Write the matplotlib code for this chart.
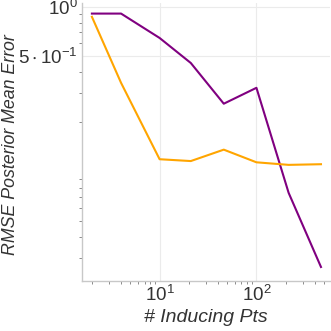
import matplotlib
matplotlib.use("Agg")
import matplotlib.pyplot as plt
from matplotlib.ticker import FixedLocator, FixedFormatter, LogLocator, NullFormatter

plt.rcParams['font.family'] = ['Liberation Sans', 'DejaVu Sans']
plt.rcParams['mathtext.fontset'] = 'custom'
plt.rcParams['mathtext.rm'] = 'Liberation Sans'
plt.rcParams['mathtext.it'] = 'Liberation Sans:italic'

n_inducing = [2, 4, 10, 21, 46, 100, 215, 464]
rmse_purple = [0.906, 0.906, 0.645, 0.455, 0.258, 0.322, 0.0745, 0.0265]
rmse_orange = [0.866, 0.345, 0.119, 0.116, 0.136, 0.114, 0.110, 0.111]

xticks = [10, 100]
xticklabels = [r'$\mathregular{10^{1}}$', r'$\mathregular{10^{2}}$']
yticks = [0.5, 1.0]
yticklabels = [r'$\mathregular{5\cdot10^{-1}}$', r'$\mathregular{10^{0}}$']

fig = plt.figure(figsize=(3.31, 3.31), dpi=100)
ax = fig.add_axes([82/331, 1-281/331, 248/331, 278/331])

ax.plot(n_inducing, rmse_purple, color='#800080', lw=1.5, zorder=3)
ax.plot(n_inducing, rmse_orange, color='#FFA500', lw=1.5, zorder=3)

ax.set_xscale('log')
ax.set_yscale('log')
ax.set_xlim(1.58, 575)
ax.set_ylim(0.0218, 1.05)

ax.xaxis.set_major_locator(FixedLocator(xticks))
ax.xaxis.set_major_formatter(FixedFormatter(xticklabels))
ax.yaxis.set_major_locator(FixedLocator(yticks))
ax.yaxis.set_major_formatter(FixedFormatter(yticklabels))
ax.xaxis.set_minor_locator(LogLocator(base=10, subs=range(2, 10)))
ax.yaxis.set_minor_locator(LogLocator(base=10, subs=range(2, 10)))
ax.xaxis.set_minor_formatter(NullFormatter())
ax.yaxis.set_minor_formatter(NullFormatter())

ax.grid(True, which='major', color='#ebebeb', lw=0.8, zorder=0)
for s in ['top', 'right']:
    ax.spines[s].set_visible(False)
for s in ['left', 'bottom']:
    ax.spines[s].set_color('#c8c8c8')
    ax.spines[s].set_linewidth(1.0)

ax.tick_params(which='major', length=0, labelsize=13.5, labelcolor='#333333', pad=3)
ax.tick_params(which='minor', length=2, width=0.6, color='#777777', direction='out')

ax.set_xlabel('# Inducing Pts', fontsize=14, fontstyle='italic', color='#333333', labelpad=3)
ax.set_ylabel('RMSE Posterior Mean Error', fontsize=12.8, fontstyle='italic', color='#333333')
ax.yaxis.set_label_coords((19 - 82) / 248, (281 - 145) / 278, transform=ax.transAxes)

fig.savefig('out.png', dpi=100)
